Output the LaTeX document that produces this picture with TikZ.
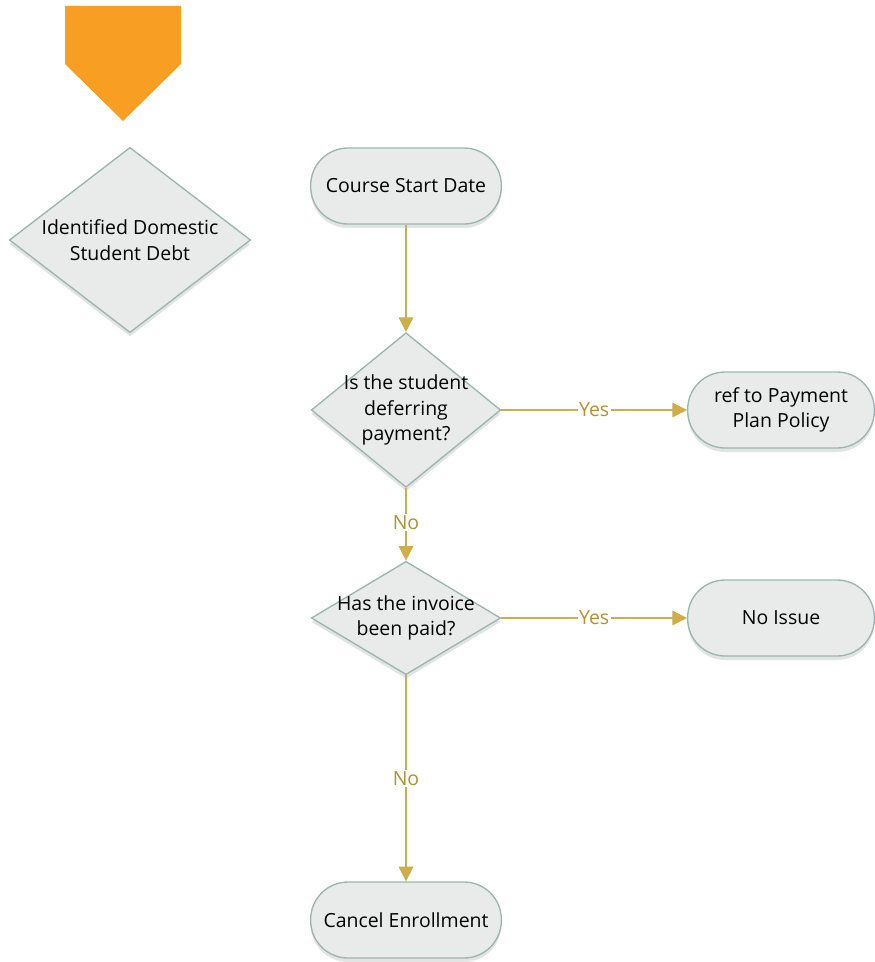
\documentclass[tikz,border=0pt]{standalone}
\usepackage{fontspec}
\setmainfont{Open Sans}
\usetikzlibrary{shapes.geometric,arrows.meta,shadows}
\definecolor{nodefill}{HTML}{E9EAEA}
\definecolor{nodeline}{HTML}{9DB5AF}
\definecolor{flowline}{HTML}{CDAE48}
\definecolor{flowtext}{HTML}{B3922E}
\definecolor{startorange}{HTML}{F79E23}
\tikzset{
  x=0.75pt, y=-0.75pt,
  nodefont/.style={font=\fontsize{14.6}{19}\selectfont, align=center},
  base/.style={draw=nodeline, line width=1pt, fill=nodefill,
    drop shadow={shadow xshift=0pt, shadow yshift=-3pt, opacity=0.18, fill=black!60},
    nodefont, text=black},
  term/.style={base, rectangle, rounded corners=28pt, minimum width=143pt,
    minimum height=57pt, inner sep=0pt},
  dec/.style={base, diamond, inner sep=0pt},
  flow/.style={draw=flowline, line width=0.9pt,
    -{Triangle[length=11pt, width=11pt]}},
  flowlabel/.style={fill=white, text=flowtext, inner sep=1pt,
    font=\fontsize{14.6}{17}\selectfont},
}
\begin{document}
\begin{tikzpicture}
\useasboundingbox (0,0) rectangle (874,962);

% start marker
\fill[startorange] (65,6) -- (181,6) -- (181,64) -- (123,121) -- (65,64) -- cycle;

% left decision
\node[dec, minimum width=181pt, minimum height=139pt,
  label={[nodefont]center:Identified Domestic\\Student Debt}]
  (debt) at (130,240) {};

% main column
\node[term] (start) at (406,186) {Course Start Date};
\node[dec, minimum width=142pt, minimum height=116pt,
  label={[nodefont]center:Is the student\\deferring\\payment?}]
  (defer) at (406,410) {};
\node[term, minimum width=140pt] (policy) at (781,410) {ref to Payment\\Plan Policy};
\node[dec, minimum width=142pt, minimum height=85pt,
  label={[nodefont]center:Has the invoice\\been paid?}]
  (paid) at (406,618) {};
\node[term, minimum width=140pt] (noissue) at (781,618) {No Issue};
\node[term] (cancel) at (406,920) {Cancel Enrollment};

% connectors
\draw[flow] (start) -- (defer);
\draw[flow] (defer) -- node[flowlabel, pos=0.5] {Yes} (policy);
\draw[flow] (defer) -- node[flowlabel, pos=0.47] {No} (paid);
\draw[flow] (paid) -- node[flowlabel, pos=0.5] {Yes} (noissue);
\draw[flow] (paid) -- node[flowlabel, pos=0.5] {No} (cancel);
\end{tikzpicture}
\end{document}
